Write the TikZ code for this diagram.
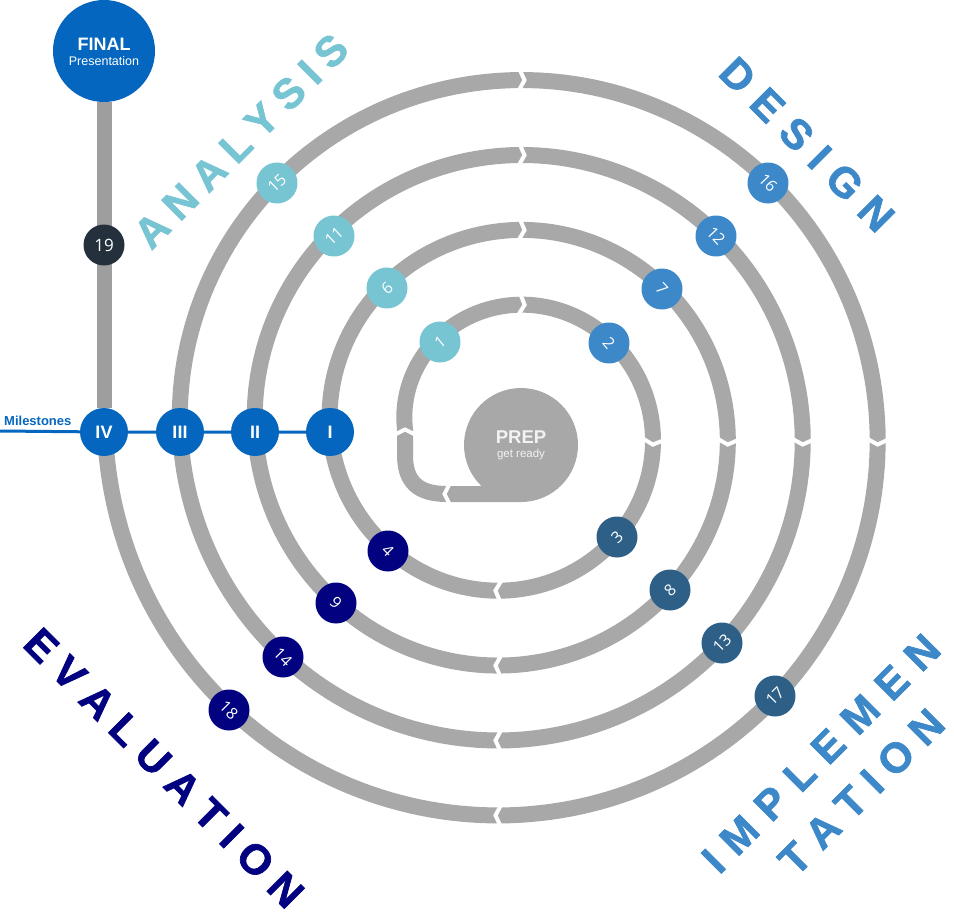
\documentclass[tikz,border=0pt]{standalone}
\usepackage{fontspec}
\setmainfont{Liberation Sans}
\newfontfamily\numfont{Open Sans}
\newfontfamily\heavyfont[FakeBold=1.6]{Liberation Sans Bold}
\definecolor{tealc}{HTML}{77C4D3}
\definecolor{designc}{HTML}{3C88C8}
\definecolor{slatec}{HTML}{2D5F87}
\definecolor{navyc}{HTML}{020280}
\definecolor{msc}{HTML}{0466BE}
\definecolor{darkc}{HTML}{24313D}
\definecolor{bandc}{HTML}{A8A8A8}
\definecolor{vbandc}{HTML}{9E9E9E}
\definecolor{preptext}{HTML}{F2F2F2}
\newcommand\chevmark[1]{%
  \pgfmathsetmacro\chR{105+(#1)/4.8}%
  \pgfmathsetmacro\chS{sin(#1)}%
  \pgfmathsetmacro\chC{cos(#1)}%
  \pgfmathsetmacro\chX{510-\chR*\chC}%
  \pgfmathsetmacro\chY{429-\chR*\chS}%
  \draw[chev] ({\chX-2.5*\chS+10*\chC},{\chY+2.5*\chC+10*\chS}) -- ({\chX+2.5*\chS},{\chY-2.5*\chC}) -- ({\chX-2.5*\chS-10*\chC},{\chY+2.5*\chC-10*\chS});}
\begin{document}
\begin{tikzpicture}[x=1pt,y=-1pt,
  band/.style={line width=16pt, draw=bandc, line join=round},
  chev/.style={line width=4pt, draw=white, line join=miter},
  num/.style={circle, minimum size=41pt, inner sep=0pt, text=white, font=\numfont\fontsize{16}{16}\selectfont},
  ms/.style={circle, fill=msc, minimum size=48pt, inner sep=0pt, text=white, font=\bfseries\fontsize{18}{18}\selectfont},
  big/.style={inner sep=0pt, font=\heavyfont\fontsize{42}{42}\selectfont}]
\useasboundingbox (0,0) rectangle (954,918);

% spiral band
\draw[band] (521,494) -- (447,494) .. controls (418,494) and (405,482) .. (405,455) -- (405,429)
  -- plot[domain=0:1440,samples=961] ({510-(105+\x/4.8)*cos(\x)},{429-(105+\x/4.8)*sin(\x)});

% chevrons
\draw[chev] (395,434.5) -- (405,429.5) -- (415,434.5);
\draw[chev] (449.5,484) -- (444.5,494) -- (449.5,504);
\foreach \k in {0,1,2,3}{
  \pgfmathsetmacro\pa{90+asin(12/(123.75+75*\k))+360*\k}
  \pgfmathsetmacro\pb{180+asin(13/(142.5+75*\k))+360*\k}
  \pgfmathsetmacro\pc{270+asin(12/(161.25+75*\k))+360*\k}
  \chevmark{\pa}
  \chevmark{\pb}
  \chevmark{\pc}
}

% PREP
\node[circle, fill=bandc, minimum size=114pt, inner sep=0pt] (prep) at (521,445) {};
\node[anchor=base, inner sep=0pt, text=preptext, font=\bfseries\fontsize{18.5}{18.5}\selectfont] (preplbl) at (521,443.5) {PREP};
\node[anchor=base, inner sep=0pt, text=preptext, font=\fontsize{11.5}{11.5}\selectfont] (prepsub) at (521,457) {get ready};

% milestones
\node[ms] (m1) at (330,432) {I};
\node[ms] (m2) at (255,432) {II};
\node[ms] (m3) at (180,432) {III};
\node[ms] (m4) at (104,432) {IV};
\coordinate (msl) at (0,431);
\draw[msc, line width=3pt] (msl) -- (m4) -- (m3) -- (m2) -- (m1);
\node[anchor=base west, inner sep=0pt, text=msc, font=\bfseries\fontsize{13}{13}\selectfont] (mstext) at (4,425) {Milestones};

% final
\node[circle, fill=msc, minimum size=102pt, inner sep=0pt] (final) at (104,51) {};
\node[anchor=base, inner sep=0pt, text=white, font=\bfseries\fontsize{18}{18}\selectfont] (finalt) at (104,50.5) {FINAL};
\node[anchor=base, inner sep=0pt, text=white, font=\fontsize{12.5}{12.5}\selectfont] (finalp) at (104,65) {Presentation};
\draw[line width=15pt, draw=vbandc] (m4) -- (final);
\node[num, fill=darkc, font=\numfont\fontsize{17}{17}\selectfont] (n19) at (104,245) {19};

% numbered steps
\node[num, fill=tealc, rotate=39] (n1) at (440,342) {1};
\node[num, fill=designc, rotate=-49] (n2) at (609,343) {2};
\node[num, fill=slatec, rotate=45] (n3) at (617,537) {3};
\node[num, fill=navyc, rotate=-45] (n4) at (388,551) {4};
\node[num, fill=tealc, rotate=41] (n6) at (387,288) {6};
\node[num, fill=designc, rotate=-47] (n7) at (662,289) {7};
\node[num, fill=slatec, rotate=45] (n8) at (670,590) {8};
\node[num, fill=navyc, rotate=-45] (n9) at (336,603) {9};
\node[num, fill=tealc, rotate=42.5] (n11) at (334,236) {11};
\node[num, fill=designc, rotate=-47] (n12) at (716,236) {12};
\node[num, fill=slatec, rotate=45] (n13) at (722,643) {13};
\node[num, fill=navyc, rotate=-45] (n14) at (283,657) {14};
\node[num, fill=tealc, rotate=43.4] (n15) at (277,183) {15};
\node[num, fill=designc, rotate=-46.4] (n16) at (768,183) {16};
\node[num, fill=slatec, rotate=45] (n17) at (775,696) {17};
\node[num, fill=navyc, rotate=-45] (n18) at (229,710) {18};

% phase labels
\node[big, text=tealc, rotate=45] (analysis) at (241,141) {A\kern10pt N\kern10pt A\kern10pt L\kern10pt Y\kern10pt S\kern10pt I\kern10pt S};
\node[big, text=designc, rotate=-45] (design) at (807,144.5) {D\kern13pt E\kern13pt S\kern13pt I\kern13pt G\kern13pt N};
\node[big, text=navyc, rotate=-45] (evaluation) at (164,768) {E\kern11.3pt V\kern11.3pt A\kern11.3pt L\kern11.3pt U\kern11.3pt A\kern11.3pt T\kern11.3pt I\kern11.3pt O\kern11.3pt N};
\node[big, text=designc, rotate=45] (implem) at (821,753.5) {I\kern13.5pt M\kern13.5pt P\kern13.5pt L\kern13.5pt E\kern13.5pt M\kern13.5pt E\kern13.5pt N};
\node[big, text=designc, rotate=45] (tation) at (861.5,792) {T\kern11.5pt A\kern11.5pt T\kern11.5pt I\kern11.5pt O\kern11.5pt N};
\end{tikzpicture}
\end{document}
